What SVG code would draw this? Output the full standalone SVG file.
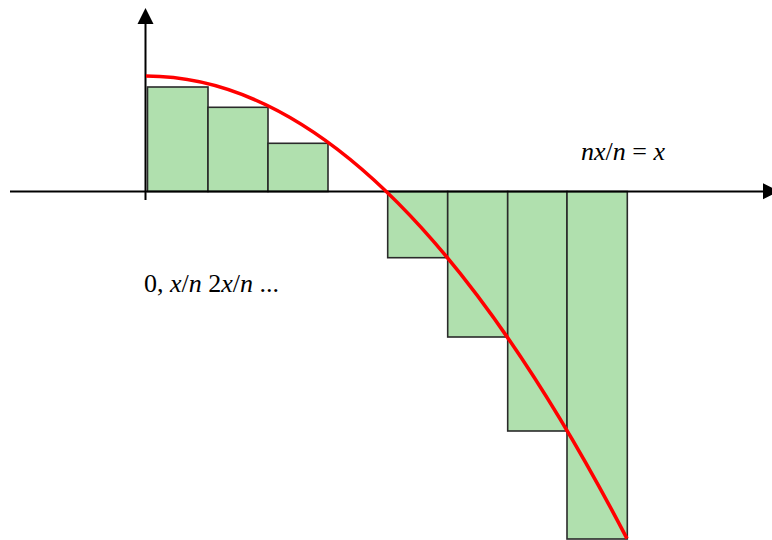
<svg xmlns="http://www.w3.org/2000/svg" width="772" height="540" viewBox="0 0 772 540">
<style>
.bar{fill:#b0e0ae;stroke:#2a2a2a;stroke-width:1.6}
.axis{stroke:#000;stroke-width:2;fill:none}
.lbl{font-family:'Liberation Serif','Times New Roman',serif;font-size:26px;fill:#000}
.i{font-style:italic}
</style>
<rect width="772" height="540" fill="#fff"/>
<g id="bars">
<rect id="b1" class="bar" x="147.5" y="87" width="60.5" height="104.5"/>
<rect id="b2" class="bar" x="208" y="107.3" width="60" height="84.2"/>
<rect id="b3" class="bar" x="268" y="143.3" width="60" height="48.2"/>
<rect id="b4" class="bar" x="387.7" y="191.5" width="60" height="66.2"/>
<rect id="b5" class="bar" x="447.7" y="191.5" width="60" height="145.5"/>
<rect id="b6" class="bar" x="507.7" y="191.5" width="59.3" height="239.5"/>
<rect id="b7" class="bar" x="567" y="191.5" width="60.3" height="347.5"/>
</g>
<g id="connectors">
<line class="axis" x1="10" y1="191.5" x2="764" y2="191.5"/>
<polygon points="763,183.3 779,191.3 763,199.3" fill="#000"/>
<line class="axis" x1="145.5" y1="22" x2="145.5" y2="200"/>
<polygon points="137.5,24 145.5,8 153.5,24" fill="#000"/>
</g>
<g id="curve">
<path d="M146,76 Q386.5,76 627,538.7" fill="none" stroke="#ff0000" stroke-width="3.6"/>
</g>
<g id="labels">
<text class="lbl" x="144" y="292">0, <tspan class="i">x</tspan>/<tspan class="i">n</tspan> 2<tspan class="i">x</tspan>/<tspan class="i">n</tspan> ...</text>
<text class="lbl" x="581" y="160"><tspan class="i">nx</tspan>/<tspan class="i">n</tspan> = <tspan class="i">x</tspan></text>
</g>
</svg>
